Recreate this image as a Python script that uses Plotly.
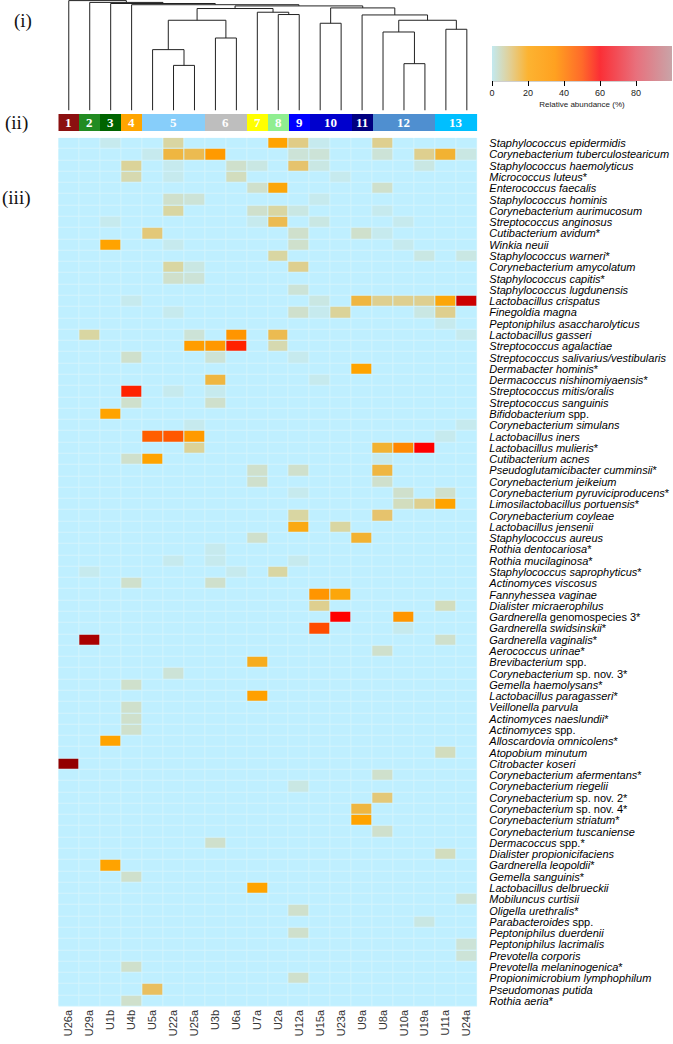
import plotly.graph_objects as go

W, H = 673, 1044

samples = ["U26a", "U29a", "U1b", "U4b", "U5a", "U22a", "U25a", "U3b", "U6a", "U7a",
           "U2a", "U12a", "U15a", "U23a", "U9a", "U8a", "U10a", "U19a", "U11a", "U24a"]

clusters = [1, 2, 3, 4, 5, 5, 5, 6, 6, 7, 8, 9, 10, 10, 11, 12, 12, 12, 13, 13]
cluster_colors = ["#8b1010", "#228b22", "#006400", "#ffa500", "#87cefa", "#bebebe", "#ffff00",
                  "#90ee90", "#0000ff", "#0000cd", "#000080", "#4f8fd0", "#00bfff"]

species = [
    "Staphylococcus epidermidis", "Corynebacterium tuberculostearicum", "Staphylococcus haemolyticus",
    "Micrococcus luteus*", "Enterococcus faecalis", "Staphylococcus hominis", "Corynebacterium aurimucosum",
    "Streptococcus anginosus", "Cutibacterium avidum*", "Winkia neuii", "Staphylococcus warneri*",
    "Corynebacterium amycolatum", "Staphylococcus capitis*", "Staphylococcus lugdunensis",
    "Lactobacillus crispatus", "Finegoldia magna", "Peptoniphilus asaccharolyticus", "Lactobacillus gasseri",
    "Streptococcus agalactiae", "Streptococcus salivarius/vestibularis", "Dermabacter hominis*",
    "Dermacoccus nishinomiyaensis*", "Streptococcus mitis/oralis", "Streptococcus sanguinis",
    "Bifidobacterium spp.", "Corynebacterium simulans", "Lactobacillus iners", "Lactobacillus mulieris*",
    "Cutibacterium acnes", "Pseudoglutamicibacter cumminsii*", "Corynebacterium jeikeium",
    "Corynebacterium pyruviciproducens*", "Limosilactobacillus portuensis*", "Corynebacterium coyleae",
    "Lactobacillus jensenii", "Staphylococcus aureus", "Rothia dentocariosa*", "Rothia mucilaginosa*",
    "Staphylococcus saprophyticus*", "Actinomyces viscosus", "Fannyhessea vaginae",
    "Dialister micraerophilus", "Gardnerella genomospecies 3*", "Gardnerella swidsinskii*",
    "Gardnerella vaginalis*", "Aerococcus urinae*", "Brevibacterium spp.", "Corynebacterium sp. nov. 3*",
    "Gemella haemolysans*", "Lactobacillus paragasseri*", "Veillonella parvula", "Actinomyces naeslundii*",
    "Actinomyces spp.", "Alloscardovia omnicolens*", "Atopobium minutum", "Citrobacter koseri",
    "Corynebacterium afermentans*", "Corynebacterium riegelii", "Corynebacterium sp. nov. 2*",
    "Corynebacterium sp. nov. 4*", "Corynebacterium striatum*", "Corynebacterium tuscaniense",
    "Dermacoccus spp.*", "Dialister propionicifaciens", "Gardnerella leopoldii*", "Gemella sanguinis*",
    "Lactobacillus delbrueckii", "Mobiluncus curtisii", "Oligella urethralis*", "Parabacteroides spp.",
    "Peptoniphilus duerdenii", "Peptoniphilus lacrimalis", "Prevotella corporis",
    "Prevotella melaninogenica*", "Propionimicrobium lymphophilum", "Pseudomonas putida", "Rothia aeria*",
]

# non-zero cells: (species index, sample, relative abundance %)
hit_species = [
    0, 0, 0, 0, 0, 0,
    1, 1, 1, 1, 1, 1, 1, 1, 1, 1,
    2, 2, 2, 2, 2, 2, 2,
    3, 3, 3, 3,
    4, 4, 4,
    5, 5, 5,
    6, 6, 6, 6, 6,
    7, 7, 7, 7, 7,
    8, 8, 8, 8,
    9, 9, 9, 9,
    10, 10, 10,
    11, 11, 11,
    12, 12,
    13,
    14, 14, 14, 14, 14, 14, 14, 14,
    15, 15, 15, 15, 15, 15,
    16,
    17, 17, 17, 17, 17,
    18, 18, 18, 18,
    19, 19, 19,
    20,
    21, 21,
    22, 22, 22,
    23, 23,
    24,
    25, 25,
    26, 26, 26, 26,
    27, 27, 27, 27,
    28, 28, 28,
    29, 29, 29,
    30, 30,
    31, 31, 31,
    32, 32, 32,
    33, 33,
    34, 34,
    35, 35,
    36,
    37, 37, 37,
    38, 38, 38,
    39, 39,
    40, 40,
    41, 41,
    42, 42,
    43, 43,
    44, 44,
    45, 46, 47, 48, 49, 50, 51, 52, 53, 54, 55, 56, 57, 58, 59, 60, 61, 62, 63, 64,
    65, 66, 67, 68, 69, 70, 71, 72, 73, 74, 75, 76,
]
hit_samples = [
    "U1b", "U22a", "U2a", "U12a", "U15a", "U8a",
    "U5a", "U22a", "U25a", "U3b", "U12a", "U15a", "U8a", "U19a", "U11a", "U24a",
    "U4b", "U22a", "U6a", "U7a", "U12a", "U15a", "U19a",
    "U4b", "U22a", "U6a", "U23a",
    "U7a", "U2a", "U8a",
    "U22a", "U25a", "U15a",
    "U22a", "U7a", "U2a", "U12a", "U8a",
    "U1b", "U7a", "U2a", "U15a", "U10a",
    "U5a", "U12a", "U9a", "U8a",
    "U1b", "U22a", "U12a", "U10a",
    "U2a", "U19a", "U24a",
    "U22a", "U25a", "U12a",
    "U22a", "U25a",
    "U12a",
    "U4b", "U15a", "U9a", "U8a", "U10a", "U19a", "U11a", "U24a",
    "U22a", "U12a", "U23a", "U19a", "U11a", "U15a",
    "U11a",
    "U29a", "U25a", "U6a", "U2a", "U24a",
    "U25a", "U3b", "U6a", "U2a",
    "U4b", "U3b", "U12a",
    "U9a",
    "U3b", "U15a",
    "U4b", "U22a", "U3b",
    "U4b", "U3b",
    "U1b",
    "U25a", "U24a",
    "U5a", "U22a", "U25a", "U11a",
    "U25a", "U8a", "U10a", "U19a",
    "U4b", "U5a", "U8a",
    "U7a", "U12a", "U8a",
    "U7a", "U8a",
    "U12a", "U10a", "U11a",
    "U10a", "U19a", "U11a",
    "U12a", "U8a",
    "U12a", "U23a",
    "U7a", "U9a",
    "U3b",
    "U22a", "U3b", "U12a",
    "U29a", "U6a", "U2a",
    "U4b", "U3b",
    "U15a", "U23a",
    "U15a", "U11a",
    "U23a", "U10a",
    "U15a", "U10a",
    "U29a", "U11a",
    "U8a", "U7a", "U22a", "U4b", "U7a", "U4b", "U4b", "U4b", "U1b", "U11a", "U26a", "U8a", "U12a", "U8a",
    "U9a", "U9a", "U8a", "U3b", "U11a", "U1b",
    "U4b", "U7a", "U24a", "U12a", "U19a", "U12a", "U24a", "U24a", "U4b", "U12a", "U5a", "U4b",
]
hit_values = [
    2, 8, 22, 11, 2, 10,
    2, 16, 15, 25, 4, 4, 4, 10, 17, 3,
    9, 2, 5, 3, 13, 3, 3,
    7, 2, 6, 2,
    5, 21, 5,
    5, 4, 2,
    8, 5, 8, 3, 2,
    2, 2, 15, 3, 2,
    12, 5, 5, 2,
    22, 2, 5, 2,
    8, 3, 3,
    8, 3, 10,
    5, 4,
    4,
    2, 3, 16, 10, 10, 10, 21, 75,
    2, 5, 9, 3, 10, 2,
    2,
    8, 4, 27, 15, 2,
    24, 26, 50, 7,
    5, 4, 2,
    22,
    16, 2,
    50, 2, 2,
    5, 5,
    22,
    2, 2,
    40, 41, 25, 2,
    9, 17, 31, 57,
    5, 22, 2,
    5, 5, 16,
    5, 5,
    2, 5, 5,
    6, 10, 22,
    8, 13,
    20, 8,
    5, 17,
    2,
    2, 2, 2,
    2, 2, 8,
    5, 5,
    27, 21,
    10, 6,
    57, 27,
    43, 2,
    88, 5,
    5, 19, 4, 5, 23, 5, 5, 5, 22, 6, 97, 5, 3, 12,
    16, 22, 5, 5, 6, 22,
    5, 22, 4, 5, 3, 5, 4, 4, 5, 5, 14, 5,
]

# dendrogram merges: (child a, child b, height); leaves are 0..19, new nodes 20..
merge_a = [5, 4, 7, 21, 10, 9, 23, 12, 16, 15, 18, 29, 14, 27, 26, 3, 2, 1, 0]
merge_b = [6, 20, 8, 22, 11, 24, 25, 13, 17, 28, 19, 30, 31, 32, 33, 34, 35, 36, 37]
merge_h = [45, 60.7, 72.3, 90, 95.7, 98, 101.7, 87, 46.7, 78.3, 81, 90, 95.3, 102.3, 104.3, 105.5, 106.7, 107.8, 109.6]

abund_ticks = [0, 20, 40, 60, 80]

# ---------------------------------------------------------------- build
nS, nC = len(species), len(samples)
z = [[0.0] * nC for _ in range(nS)]
for r, s, v in zip(hit_species, hit_samples, hit_values):
    z[r][samples.index(s)] = v

UPRIGHT = {"spp.", "sp.", "nov.", "genomospecies"}


def fmt(name):
    out = []
    for w in name.split(" "):
        star = w.endswith("*")
        core = w[:-1] if star else w
        if core in UPRIGHT or core.isdigit():
            out.append(w)
        else:
            out.append("<i>" + core + "</i>" + ("*" if star else ""))
    return " ".join(out)


def px_x(p):
    return p / W


def px_y(p):
    return 1 - p / H


hx0, hx1 = px_x(58.3), px_x(477.3)
hy_top, hy_bot = 137.7, 1006.7
cb_top, cb_bot = 114, 131.3
dd_bot = 110.5

heat_cs = [
    [0.0, "#bfefff"], [0.02, "#c6eaee"], [0.05, "#cfe0cc"], [0.08, "#d9d6a2"],
    [0.11, "#e0cc86"], [0.14, "#e9bf60"], [0.17, "#f2b232"], [0.22, "#ffa300"],
    [0.30, "#ff8c00"], [0.40, "#ff5e00"], [0.50, "#ff2200"], [0.57, "#ff0000"],
    [0.75, "#cc0000"], [0.88, "#aa0000"], [1.0, "#8b0000"],
]
bar_cs = [
    [0.0, "#c2e9f0"], [0.1, "#e2cf94"], [0.2, "#fcb331"], [0.35, "#ffa120"],
    [0.5, "#ff6a2a"], [0.6, "#fb2f36"], [0.8, "#e8707c"], [1.0, "#c9a4a8"],
]

fig = go.Figure()

fig.add_trace(go.Heatmap(
    z=z, x=list(range(nC)), y=list(range(nS)), zmin=0, zmax=100,
    colorscale=heat_cs, showscale=False, xgap=1, ygap=1,
    xaxis="x", yaxis="y", hoverinfo="skip",
))

# cluster bar
n_cl = len(cluster_colors)
cl_cs = []
for i, c in enumerate(cluster_colors):
    cl_cs.append([i / n_cl, c])
    cl_cs.append([(i + 1) / n_cl, c])
fig.add_trace(go.Heatmap(
    z=[[c - 0.5 for c in clusters]], x=list(range(nC)), y=[0], zmin=0, zmax=n_cl,
    colorscale=cl_cs, showscale=False, xaxis="x2", yaxis="y2", hoverinfo="skip",
))

# dendrogram
pos = {i: float(i) for i in range(nC)}
hgt = {i: 0.0 for i in range(nC)}
xs, ys = [], []
for k, (a, b, h) in enumerate(zip(merge_a, merge_b, merge_h)):
    node = nC + k
    xa, xb = pos[a], pos[b]
    xs += [xa, xa, xb, xb, None]
    ys += [hgt[a], h, h, hgt[b], None]
    pos[node] = (xa + xb) / 2
    hgt[node] = h
fig.add_trace(go.Scatter(x=xs, y=ys, mode="lines", line=dict(color="#222222", width=1),
                         xaxis="x3", yaxis="y3", hoverinfo="skip", showlegend=False))

# colour key
fig.add_trace(go.Scatter(
    x=[None, None], y=[None, None], mode="markers", xaxis="x3", yaxis="y3", showlegend=False,
    marker=dict(color=[0, 100], cmin=0, cmax=100, colorscale=bar_cs, showscale=True,
                colorbar=dict(orientation="h", x=px_x(492), xanchor="left", y=px_y(45.7), yanchor="top",
                              len=180, lenmode="pixels", thickness=35, thicknessmode="pixels",
                              xpad=0, ypad=0, outlinewidth=0, tickvals=abund_ticks,
                              ticks="outside", ticklen=5, tickcolor="#000", tickwidth=1,
                              tickfont=dict(family="Liberation Sans, Arial", size=9, color="#222"),
                              title=dict(text="Relative abundance (%)", side="bottom",
                                         font=dict(family="Liberation Sans, Arial", size=8, color="#222")))),
    hoverinfo="skip",
))

annotations = []
# cluster numbers
for cid in sorted(set(clusters)):
    cols = [i for i, c in enumerate(clusters) if c == cid]
    annotations.append(dict(x=sum(cols) / len(cols), y=0, xref="x2", yref="y2", text=f"<b>{cid}</b>",
                            showarrow=False, font=dict(family="Liberation Serif, Times New Roman", size=13,
                                                       color="white")))
for txt, xx, yy in [("(i)", 22.5, 20.5), ("(ii)", 16, 122.5), ("(iii)", 16, 198)]:
    annotations.append(dict(x=px_x(xx), y=px_y(yy), xref="paper", yref="paper", text=txt, showarrow=False,
                            xanchor="center", yanchor="middle",
                            font=dict(family="Liberation Serif, Times New Roman", size=19, color="#111")))

fig.update_layout(
    width=W, height=H, margin=dict(l=0, r=0, t=0, b=0), paper_bgcolor="white", plot_bgcolor="white",
    showlegend=False, annotations=annotations,
    shapes=[
        dict(type="rect", xref="x", yref="y", x0=-0.5, x1=nC - 0.5, y0=-0.5, y1=nS - 0.5,
             fillcolor="#d3f4fd", line=dict(width=0), layer="below"),
        dict(type="line", xref="paper", yref="paper", x0=px_x(492), x1=px_x(636.5),
             y0=px_y(80.7), y1=px_y(80.7), line=dict(color="black", width=1)),
    ],
    xaxis=dict(domain=[hx0, hx1], range=[-0.5, nC - 0.5], tickvals=list(range(nC)), ticktext=samples,
               tickangle=-90, showgrid=False, zeroline=False, ticks="", anchor="y", automargin=False,
               tickfont=dict(family="Liberation Sans, Arial", size=11, color="#333")),
    yaxis=dict(domain=[px_y(hy_bot), px_y(hy_top)], range=[nS - 0.5, -0.5], tickvals=list(range(nS)),
               ticktext=[fmt(s) for s in species], side="right", showgrid=False, zeroline=False, ticks="",
               anchor="x", ticklabelstandoff=11, automargin=False,
               tickfont=dict(family="Liberation Sans, Arial", size=11, color="#000")),
    xaxis2=dict(domain=[hx0, hx1], range=[-0.5, nC - 0.5], visible=False, anchor="y2", automargin=False),
    yaxis2=dict(domain=[px_y(cb_bot), px_y(cb_top)], range=[-0.5, 0.5], visible=False, anchor="x2",
                automargin=False),
    xaxis3=dict(domain=[hx0, hx1], range=[-0.5, nC - 0.5], visible=False, anchor="y3", automargin=False),
    yaxis3=dict(domain=[px_y(dd_bot), 1], range=[0, 110.2], visible=False, anchor="x3", automargin=False),
)

fig.write_html("out.html", config={"displayModeBar": False},
               post_script="document.body.style.margin='0';")
